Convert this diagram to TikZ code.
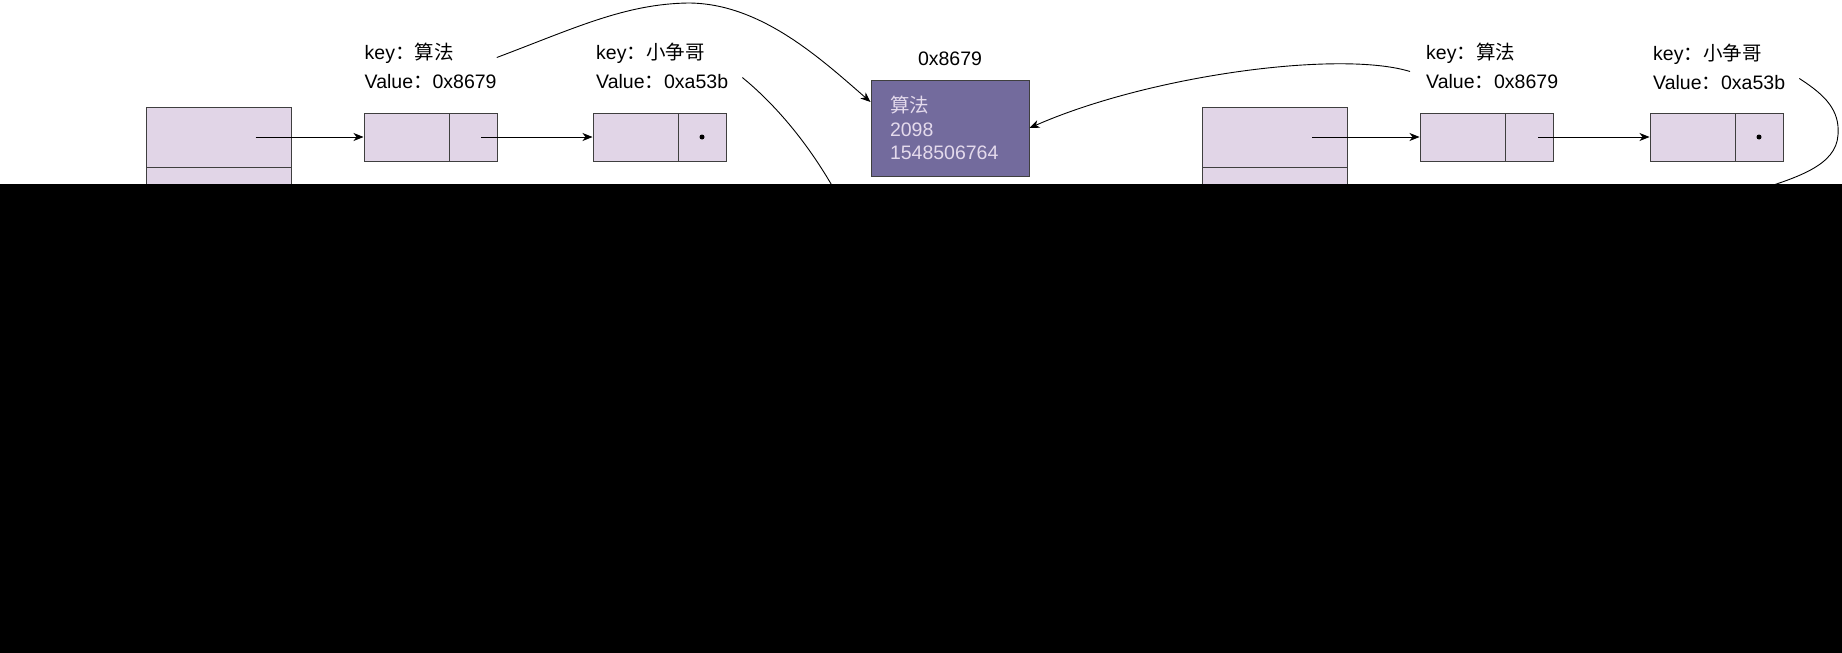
\documentclass[tikz,border=0pt]{standalone}
\usepackage{fontspec}
\setmainfont{Liberation Sans}
\newfontfamily\cjk{Noto Sans CJK SC}
\usetikzlibrary{arrows.meta}
\definecolor{cellfill}{HTML}{E1D5E7}
\definecolor{cellline}{HTML}{3F3F3F}
\definecolor{objfill}{HTML}{736B9D}
\definecolor{objtext}{HTML}{E4DAEC}
\tikzset{
  cell/.style={draw=cellline, fill=cellfill, line width=1pt, minimum height=48pt, inner sep=0pt},
  keycell/.style={cell, minimum width=85pt},
  ptrcell/.style={cell, minimum width=48pt},
  bucket/.style={draw=cellline, fill=cellfill, line width=1pt, minimum width=145pt, minimum height=60pt, inner sep=0pt},
  lbl/.style={font=\fontsize{19.5}{29}\selectfont, align=left, anchor=west, inner sep=0pt},
  objbox/.style={draw=cellline, fill=objfill, text=objtext, line width=1pt, minimum width=158pt, minimum height=96pt, text width=120pt, inner xsep=19pt, inner ysep=0pt, align=left, font=\fontsize{19.5}{23.5}\selectfont},
  link/.style={-{Stealth[length=10pt,width=8pt,inset=3pt]}, line width=0.9pt},
  curve/.style={line width=0.9pt},
}
\begin{document}
\begin{tikzpicture}[x=1pt,y=-1pt]
				\useasboundingbox (0,0) rectangle (1842,653);
				\node[bucket] (b1) at (218.5,137) {};
				\node[bucket] (b1b) at (218.5,197) {};
				\node[keycell] (n1k) at (406.5,137) {};
				\node[ptrcell] (n1p) at (473,137) {};
				\node[keycell] (n2k) at (635.5,137) {};
				\node[ptrcell] (n2p) at (702,137) {};
				\node[bucket] (b2) at (1275,137) {};
				\node[bucket] (b2b) at (1275,197) {};
				\node[keycell] (m1k) at (1462.5,137) {};
				\node[ptrcell] (m1p) at (1529,137) {};
				\node[keycell] (m2k) at (1692.5,137) {};
				\node[ptrcell] (m2p) at (1759,137) {};
				\fill (n2p.center) circle (2.5pt);
				\fill (m2p.center) circle (2.5pt);
				\node[lbl] (lab1) at (364.5,65.5) {key{\cjk ：算法}\\Value{\cjk ：}0x8679};
				\node[lbl] (lab2) at (596,65.5) {key{\cjk ：小争哥}\\Value{\cjk ：}0xa53b};
				\node[lbl] (lab3) at (1426,65.5) {key{\cjk ：算法}\\Value{\cjk ：}0x8679};
				\node[lbl] (lab4) at (1653,66.5) {key{\cjk ：小争哥}\\Value{\cjk ：}0xa53b};
				\node[objbox] (obj) at (950,128) {{\cjk 算法}\\2098\\1548506764};
				\node[font=\fontsize{19.5}{23}\selectfont, inner sep=0pt] (addr) at (950,59) {0x8679};
				\draw[link] ([xshift=37pt]b1.center) -- (n1k.west);
				\draw[link] ([xshift=8pt]n1p.center) -- (n2k.west);
				\draw[link] ([xshift=37pt]b2.center) -- (m1k.west);
				\draw[link] ([xshift=9pt]m1p.center) -- (m2k.west);
				\draw[link] ([yshift=8pt]lab1.east) .. controls (575,28) and (625,4) .. (688,3) .. controls (760,3) and (820,58) .. ([yshift=26pt]obj.west);
				\draw[curve] ([shift={(14pt,-12pt)}]lab2.east) .. controls (770,100) and (808,140) .. (840,200);
				\draw[link] ([shift={(-16pt,-6pt)}]lab3.west) .. controls (1340,50) and (1150,75) .. (obj.east);
				\draw[curve] ([shift={(14pt,-12pt)}]lab4.east) .. controls (1825,95) and (1840,110) .. (1838,135) .. controls (1836,165) and (1800,178) .. (1740,195);
				\fill[black] (0,184) rectangle (1842,653);
			\end{tikzpicture}
\end{document}
